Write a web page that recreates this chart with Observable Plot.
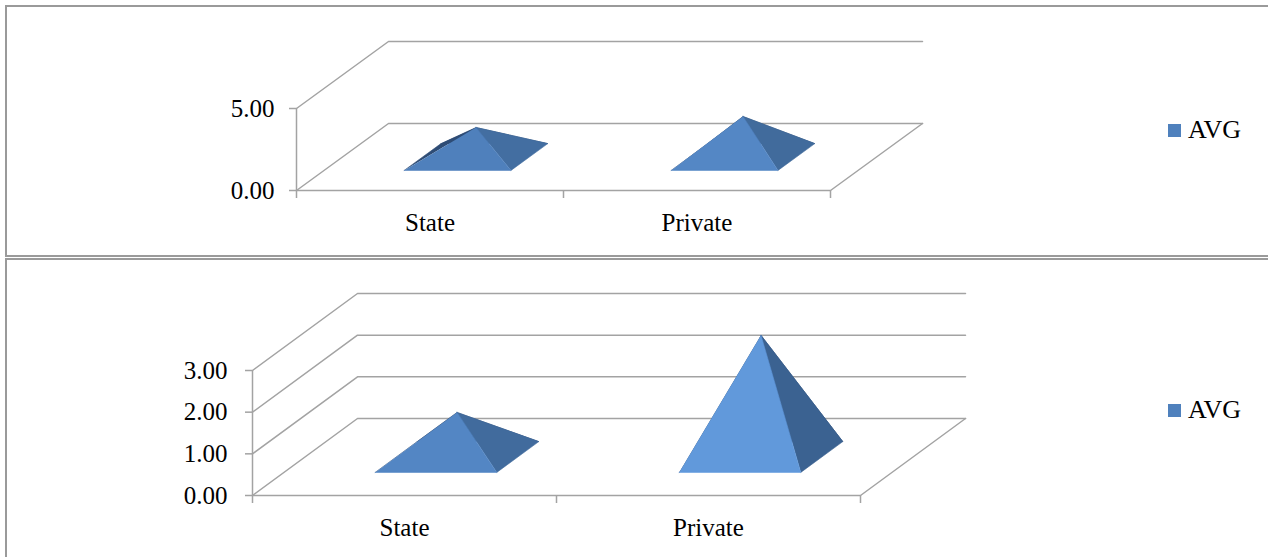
<!DOCTYPE html>
<html><head><meta charset="utf-8">
<script src="https://cdn.jsdelivr.net/npm/d3@7"></script>
<script src="https://cdn.jsdelivr.net/npm/@observablehq/plot@0.6"></script>
<style>
body{margin:0;width:1268px;height:557px;overflow:hidden;background:#fff;font-family:"Liberation Serif","Times New Roman",serif;}
.panel{position:absolute;border:2px solid #9a9a9a;box-sizing:border-box;pointer-events:none;}
.chart{position:absolute;left:0;}
.legend{position:absolute;font-size:26px;height:26px;line-height:26px;display:flex;align-items:center;color:#000;}
.sw{width:13px;height:13px;background:#4F81BD;margin-right:7px;}
</style></head><body>
<script>
// ---- data ----
const categories = ["State", "Private"];
const avgTop = [1.80, 2.47];
const avgBottom = [1.07, 2.92];
const ticksTop = [0, 5];
const ticksBottom = [0, 1, 2, 3];
const seriesName = "AVG";

const GRID = "#a3a3a3";

function buildChart(values, ticks, cfg) {
  const yMax = d3.max(ticks);
  const n = categories.length;
  const P = (x, d, v) => ({px: x + d * cfg.kx, py: v + d * cfg.ky});
  // back wall / floor gridlines
  const walls = [];
  ticks.forEach((t, k) => {
    [[0, 0], [0, 1], [n, 1]].forEach(([x, d]) => walls.push({id: "w" + k, ...P(x, d, t)}));
  });
  [[0, 0], [n, 0], [n, 1]].forEach(([x, d]) => walls.push({id: "floor", ...P(x, d, 0)}));
  [[0, 0, 0], [0, 0, yMax]].forEach(([x, d, v]) => walls.push({id: "axis", ...P(x, d, v)}));

  // pyramids (faces)
  const faceOrder = ["back", "left", "right", "front"];
  const faces = {back: [], left: [], right: [], front: []};
  values.forEach((v, i) => {
    const a = 0.3, b = 0.7;
    const FL = [i + a, a, 0], FR = [i + b, a, 0], BR = [i + b, b, 0], BL = [i + a, b, 0], A = [i + 0.5, 0.5, v];
    // simple shading from face steepness (pixel units)
    const hpx = v * cfg.pxPerUnit, rpx = 0.2 * cfg.pxPerCat;
    const c = Math.max(0, Math.min(1, (hpx / Math.hypot(hpx, rpx) - 0.45) / 0.45));
    const colors = {
      back: "#2E4C75",
      left: "#2E4C75",
      right: d3.interpolateRgb("#446FA2", "#3B6291")(c),
      front: d3.interpolateRgb("#4D7EBA", "#6199DB")(c)
    };
    const verts = {back: [BL, BR, A], left: [FL, BL, A], right: [FR, BR, A], front: [FL, FR, A]};
    for (const f of faceOrder) {
      verts[f].forEach(([x, d, vv]) => faces[f].push({id: f + i, color: colors[f], ...P(x, d, vv)}));
    }
  });

  const marks = [
    Plot.line(walls, {x: "px", y: "py", z: "id", stroke: GRID, strokeWidth: 1.5}),
    Plot.axisY({ticks, label: null, tickFormat: d3.format(".2f"), tickSize: 7, tickPadding: cfg.yPad, stroke: GRID, strokeWidth: 1.5, fill: "#000", fontSize: 25}),
    Plot.axisX({ticks: d3.range(n + 1), label: null, tickFormat: () => "", tickSize: 8, stroke: GRID, strokeWidth: 1.5}),
    Plot.axisX({ticks: categories.map((_, i) => i + 0.5), label: null, tickFormat: t => categories[Math.floor(t)], tickSize: 0, tickPadding: 23, fill: "#000", fontSize: 25}),
    ...faceOrder.map(f => Plot.line(faces[f], {x: "px", y: "py", z: "id", fill: "color", stroke: "color", strokeWidth: 0.6}))
  ];

  return Plot.plot({
    width: 1268,
    height: cfg.height,
    marginLeft: cfg.left,
    marginRight: 1268 - cfg.right,
    marginTop: cfg.top,
    marginBottom: cfg.height - cfg.bottom,
    x: {domain: [0, n], axis: null, label: null},
    y: {domain: [0, yMax], axis: null, label: null},
    color: {type: "identity"},
    style: {fontFamily: "'Liberation Serif','Times New Roman',serif", background: "transparent", overflow: "visible"},
    marks
  });
}

function addPanel(top, height, values, ticks, cfg, legendTop) {
  const panel = document.createElement("div");
  panel.className = "panel";
  panel.style.left = "5px";
  panel.style.top = (top + cfg.borderTop) + "px";
  panel.style.width = "1290px";
  panel.style.height = cfg.borderH + "px";
  const svg = buildChart(values, ticks, cfg);
  const wrap = document.createElement("div");
  wrap.className = "chart";
  wrap.style.top = top + "px";
  wrap.appendChild(svg);
  document.body.appendChild(wrap);
  document.body.appendChild(panel);
  const lg = document.createElement("div");
  lg.className = "legend";
  lg.style.left = "1168px";
  lg.style.top = legendTop + "px";
  lg.innerHTML = '<div class="sw"></div><span></span>';
  lg.querySelector("span").textContent = seriesName;
  document.body.appendChild(lg);
}

// top panel: x range 296..830, y 0->190, 5->108, depth offset (92px, -67px)
addPanel(0, 256, avgTop, ticksTop, {
  height: 256, left: 296, right: 830, top: 108, bottom: 190,
  kx: 92 / 267, ky: 67 / 16.4, pxPerUnit: 16.4, pxPerCat: 267, yPad: 15,
  borderTop: 5, borderH: 252
}, 117);

// bottom panel: x range 252..860, y 0->495, 3->370, depth offset (105px, -77px)
addPanel(258, 299, avgBottom, ticksBottom, {
  height: 299, left: 252, right: 860, top: 370 - 258, bottom: 495 - 258,
  kx: 105 / 304, ky: 77 / 41.67, pxPerUnit: 41.67, pxPerCat: 304, yPad: 18,
  borderTop: 0, borderH: 320
}, 397);
</script>
</body></html>
